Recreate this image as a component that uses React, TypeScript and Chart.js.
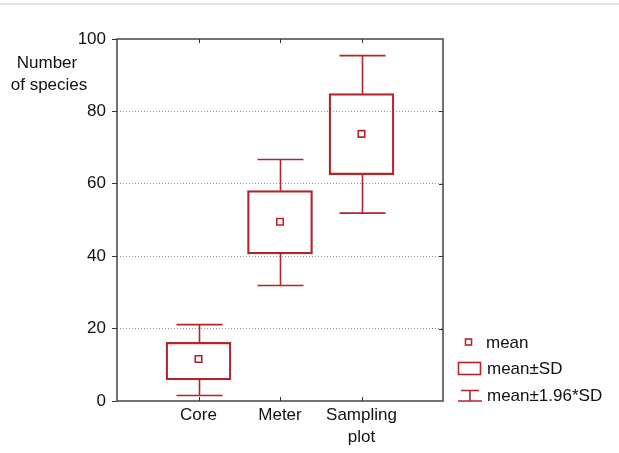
import { useEffect, useRef } from 'react';
import { Chart, registerables } from 'chart.js';

Chart.register(...registerables);

const categories = ['Core', 'Meter', 'Sampling plot'];
const meanValues = [11.6, 49.5, 73.8];
const sdLow = [5.8, 40.6, 62.5];
const sdHigh = [16.2, 58.1, 84.9];
const ciLow = [1.5, 31.9, 51.9];
const ciHigh = [21.1, 66.7, 95.4];
const yMin = 0;
const yMax = 100;
const yStep = 20;
const yTitleLines = ['Number', 'of species'];
const legendLabels = ['mean', 'mean±SD', 'mean±1.96*SD'];

const RED = '#b2262b';
const FONT = '"Liberation Sans", Arial, sans-serif';
const FS = 17;

export default function App() {
  const ref = useRef<HTMLCanvasElement | null>(null);

  useEffect(() => {
    if (!ref.current) return;
    const labels: (string | string[])[] = ['', ...categories.map((c) => (c.includes(' ') ? c.split(' ') : c)), ''];
    const pad = (arr: any[]) => [null, ...arr, null];

    const decor = {
      id: 'decor',
      afterDatasetsDraw(chart: any) {
        const { ctx, scales } = chart;
        const xs = scales.x;
        const ys = scales.y;
        ctx.save();
        ctx.strokeStyle = RED;
        ctx.lineWidth = 1.6;
        categories.forEach((_, i) => {
          const x = Math.round(xs.getPixelForValue(i + 1)) + 0.5;
          const bt = ys.getPixelForValue(sdHigh[i]);
          const bb = ys.getPixelForValue(sdLow[i]);
          const wt = ys.getPixelForValue(ciHigh[i]);
          const wb = ys.getPixelForValue(ciLow[i]);
          const hw = 23;
          ctx.beginPath();
          ctx.moveTo(x, bt);
          ctx.lineTo(x, wt);
          ctx.moveTo(x - hw, wt);
          ctx.lineTo(x + hw, wt);
          ctx.moveTo(x, bb);
          ctx.lineTo(x, wb);
          ctx.moveTo(x - hw, wb);
          ctx.lineTo(x + hw, wb);
          ctx.stroke();
        });
        ctx.restore();
      },
      afterDraw(chart: any) {
        const { ctx, chartArea, scales } = chart;
        const { left, right, top, bottom } = chartArea;
        const xs = scales.x;
        const ys = scales.y;
        ctx.save();
        // frame
        ctx.strokeStyle = '#444';
        ctx.lineWidth = 1.5;
        ctx.strokeRect(left, top, right - left, bottom - top);
        // inward ticks
        ctx.lineWidth = 1;
        ctx.strokeStyle = '#333';
        ctx.beginPath();
        categories.forEach((_, i) => {
          const x = Math.round(xs.getPixelForValue(i + 1)) + 0.5;
          ctx.moveTo(x, bottom);
          ctx.lineTo(x, bottom - 4);
          ctx.moveTo(x, top);
          ctx.lineTo(x, top + 4);
        });
        for (let v = yMin + yStep; v < yMax; v += yStep) {
          const y = Math.round(ys.getPixelForValue(v)) + 0.5;
          ctx.moveTo(right, y);
          ctx.lineTo(right - 4, y);
        }
        ctx.stroke();

        // y title
        ctx.fillStyle = '#111';
        ctx.font = `${FS}px ${FONT}`;
        ctx.textAlign = 'center';
        ctx.textBaseline = 'middle';
        ctx.fillText(yTitleLines[0], 47, 63);
        ctx.fillText(yTitleLines[1], 49, 85);

        // legend
        const lx = 458;
        const tx = 486;
        ctx.textAlign = 'left';
        ctx.strokeStyle = RED;
        ctx.lineWidth = 1.6;
        // mean marker
        ctx.strokeRect(465.5, 339, 6, 6);
        ctx.fillText(legendLabels[0], tx, 343);
        // box
        ctx.strokeRect(lx + 0.5, 362.5, 22, 12);
        ctx.fillText(legendLabels[1], tx + 1, 369);
        // whisker
        ctx.beginPath();
        ctx.moveTo(lx + 3, 390.5);
        ctx.lineTo(lx + 21, 390.5);
        ctx.moveTo(lx + 12, 390.5);
        ctx.lineTo(lx + 12, 401);
        ctx.moveTo(lx, 401);
        ctx.lineTo(lx + 24, 401);
        ctx.stroke();
        ctx.fillText(legendLabels[2], tx + 1, 396);
        ctx.restore();
      },
    };

    const chart = new Chart(ref.current, {
      type: 'bar',
      data: {
        labels,
        datasets: [
          {
            type: 'bar',
            data: pad(categories.map((_, i) => [sdLow[i], sdHigh[i]])) as any,
            backgroundColor: 'rgba(0,0,0,0)',
            borderColor: RED,
            borderWidth: 1.6,
            borderSkipped: false,
            barThickness: 65,
          } as any,
          {
            type: 'line',
            data: pad(meanValues) as any,
            showLine: false,
            pointStyle: 'rect',
            pointRadius: 4.6,
            pointBorderWidth: 1.6,
            pointBorderColor: RED,
            pointBackgroundColor: '#fff',
          } as any,
        ],
      },
      options: {
        responsive: false,
        animation: false,
        events: [],
        layout: { padding: { left: 0, right: 176, top: 39, bottom: 0 } },
        plugins: { legend: { display: false }, tooltip: { enabled: false }, title: { display: false } },
        scales: {
          x: {
            type: 'category',
            offset: false,
            grid: { display: false, drawTicks: false },
            border: { display: false },
            ticks: {
              autoSkip: false,
              maxRotation: 0,
              padding: 4,
              color: '#111',
              font: { family: FONT, size: FS, lineHeight: 1.25 },
            },
            afterFit: (s: any) => {
              s.height = 52;
            },
          },
          y: {
            min: yMin,
            max: yMax,
            ticks: {
              stepSize: yStep,
              padding: 6,
              color: '#111',
              font: { family: FONT, size: FS },
            },
            grid: {
              color: (c: any) =>
                c.tick && (c.tick.value === yMin || c.tick.value === yMax) ? 'rgba(0,0,0,0)' : '#9a9a9a',
              lineWidth: 1,
              tickColor: '#333',
              tickLength: 5,
              tickBorderDash: [],
            },
            border: { display: false, dash: [1, 2] },
            afterFit: (s: any) => {
              s.width = 117;
            },
          },
        },
      },
      plugins: [decor],
    });
    return () => chart.destroy();
  }, []);

  return (
    <div style={{ position: 'fixed', left: 0, top: 0, width: 619, height: 453, background: '#fff' }}>
      <div style={{ position: 'absolute', left: 0, top: 3, width: 619, height: 2, background: '#e2e2e2' }} />
      <canvas ref={ref} width={619} height={453} style={{ position: 'absolute', left: 0, top: 0, width: 619, height: 453 }} />
    </div>
  );
}
